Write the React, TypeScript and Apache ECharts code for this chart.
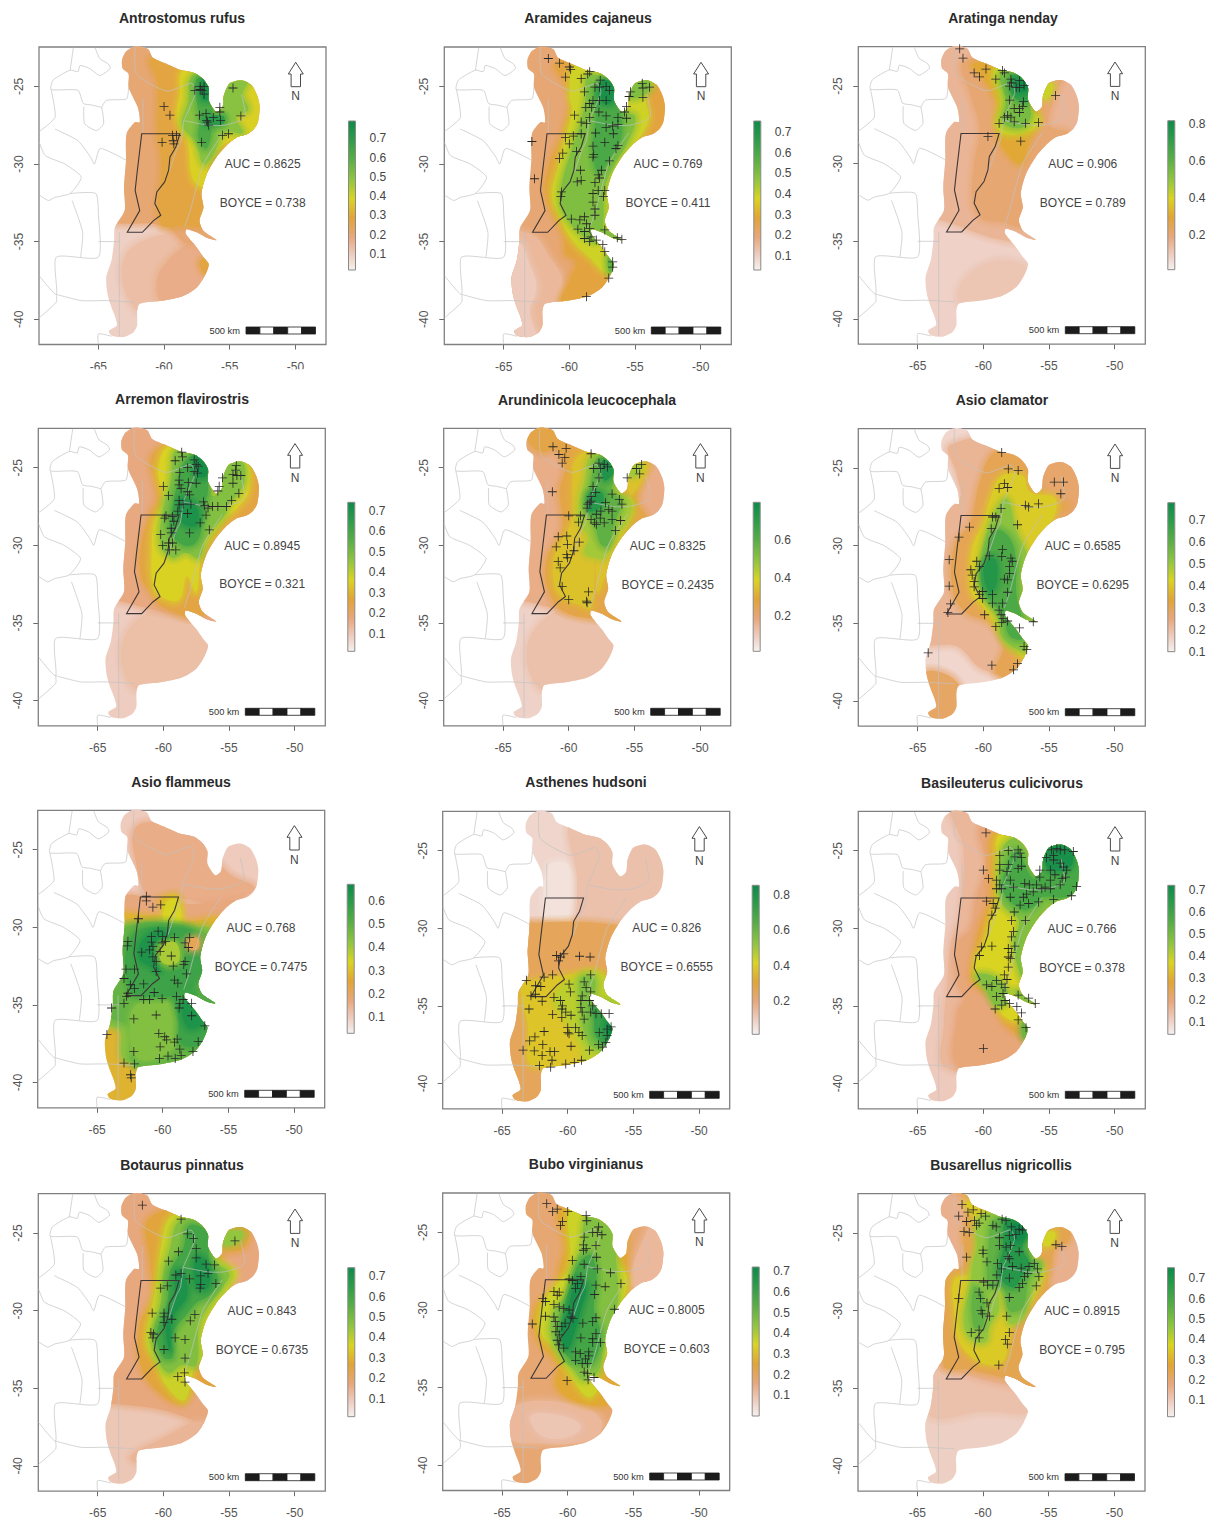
import React, { useEffect, useRef } from "react";
import * as echarts from "echarts";

const FONT = "'Liberation Sans', Arial, sans-serif";
const SPECIES = ["Antrostomus rufus","Aramides cajaneus","Aratinga nenday","Arremon flavirostris","Arundinicola leucocephala","Asio clamator","Asio flammeus","Asthenes hudsoni","Basileuterus culicivorus","Botaurus pinnatus","Bubo virginianus","Busarellus nigricollis"];
const AUC = ["0.8625","0.769","0.906","0.8945","0.8325","0.6585","0.768","0.826","0.766","0.843","0.8005","0.8915"];
const BOYCE = ["0.738","0.411","0.789","0.321","0.2435","0.6295","0.7475","0.6555","0.378","0.6735","0.603","0.795"];
const RANGE_MIN = [0.017,0.03,0.009,0.015,0.012,0.1,0.032,0.014,0.046,0.013,0.0,0.02];
const RANGE_MAX = [0.79,0.755,0.818,0.742,0.796,0.779,0.671,0.853,0.723,0.741,0.72,0.752];
const T7 = [0.1,0.2,0.3,0.4,0.5,0.6,0.7];
const T6 = [0.1,0.2,0.3,0.4,0.5,0.6];
const T4 = [0.2,0.4,0.6,0.8];
const T3 = [0.2,0.4,0.6];
const BAR_TICKS = [T7,T7,T4,T7,T3,T7,T6,T4,T7,T7,T7,T7];
const LON_TICKS = [-65,-60,-55,-50];
const LAT_TICKS = [-25,-30,-35,-40];

const REGION = [-62.4,-22.47,-61.9,-22.42,-61.2,-22.6,-60.85,-23.15,-59.8,-23.55,-58.7,-23.95,-57.65,-24.15,-57,-24.55,-56.6,-25.1,-56.6,-25.9,-56,-26.65,-55.55,-26.35,-55.45,-25.6,-55,-24.8,-54.1,-24.6,-53.35,-24.9,-52.9,-25.6,-52.72,-26.3,-52.85,-27.3,-53.15,-27.75,-53.6,-28.05,-54.5,-28.3,-55.25,-28.8,-56,-29.55,-56.75,-30.65,-57.15,-31.9,-57,-32.8,-57.3,-33.65,-57,-34.3,-56,-34.9,-56.75,-34.75,-57.5,-34.4,-58.3,-34.2,-58.35,-34.5,-57.5,-35.4,-57,-36,-56.6,-36.45,-56.9,-37.2,-57.5,-37.95,-58.55,-38.5,-60.05,-38.8,-61.85,-39,-62.05,-39.45,-62.05,-40.4,-62.35,-40.85,-63.1,-41.15,-64,-41.05,-64.2,-40.75,-63.6,-40.4,-63.7,-39.9,-64,-39.25,-64.3,-38.4,-64.4,-37.3,-64,-36.2,-63.8,-34.95,-63.75,-34.1,-63,-33,-63.05,-31.5,-62.9,-29.8,-62.85,-28.05,-62.2,-27.3,-61.85,-27.3,-62,-26.35,-62.7,-25.05,-62.7,-24.2,-63.15,-23.85,-63.2,-23.3,-62.9,-22.75];
const SANTA_FE = [-61.7,-28.05,-58.8,-28.05,-59.1,-28.9,-59.55,-29.55,-59.65,-30.4,-59.95,-31.15,-60.55,-31.8,-60.7,-32.55,-60.25,-33.3,-60.8,-33.65,-61.65,-34.4,-62.8,-34.4,-61.85,-33,-62.2,-31.7,-62.05,-30.55];
const BOUNDARIES = [
  [-65.25,-22.5,-64.9,-23.2,-64.25,-23.55,-64.1,-23.85,-64.9,-24.3,-65.65,-23.85,-66.4,-23.65,-66.55,-24.05,-67.15,-23.95,-68.45,-24.6,-68.6,-25.2,-66.55,-25.25,-66.15,-26.1,-65.5,-26.2,-64.75,-26.35],
  [-66.9,-22.5,-67.15,-23.95],
  [-62.7,-25.05,-62.85,-25.8,-64.4,-25.9,-64.75,-26.35],
  [-64.75,-26.35,-64.6,-27.4,-65.15,-27.85,-66.05,-27.4,-66.1,-26.3],
  [-68.6,-25.2,-68.3,-27,-69.5,-27.9],
  [-68.3,-27.75,-66.55,-28.5,-65.6,-29.55,-65.3,-30,-64.85,-29,-62.9,-29.75],
  [-69.5,-28.6,-69.05,-29.45,-67.55,-30,-66.3,-30.85,-67.15,-31.9,-68.3,-32.15,-68.8,-32.35,-69.5,-32],
  [-67.15,-31.9,-65.2,-31.9,-65,-33.2,-65,-36,-68.2,-36,-68.2,-38.4,-69.5,-37.2],
  [-65,-35,-63.35,-35],
  [-63.4,-34.4,-63.4,-41.1],
  [-68.2,-38.4,-68.2,-38.9,-69.5,-39.9],
  [-68.2,-38.4,-66.3,-38.8,-64.4,-38.8,-62.2,-38.9],
  [-65,-41.6,-65,-40.95,-64,-41.1],
  [-67,-32.35,-66.2,-34.4,-66.35,-36],
  [-62.2,-22.5,-62.1,-24.2,-59.8,-25.3,-57.9,-24.8,-57.6,-25.4,-58.5,-27.2],
  [-61.6,-25.8,-61.6,-28],
  [-58.5,-27.2,-56.6,-27.5,-55.4,-27.5,-54.2,-27.2,-53.8,-26.9,-54.1,-25.5],
  [-58.5,-27.2,-58.7,-28.5,-59,-29,-59.6,-30.5],
  [-55.5,-28,-57,-30,-58,-33,-58.4,-34],
];

const zonesRufus: any[] = [
  [0.09,[-70,-22,-45,-22,-45,-42,-70,-42]],
  [0.13,[-63,-36,-60,-34.5,-57,-34.5,-55,-38,-60,-40,-62.5,-39]],
  [0.17,[-60,-36.5,-57,-35,-55,-38,-59,-39.5,-60.5,-38.5]],
  [0.2,[-70,-22,-50,-22,-50,-35,-58,-35.2,-60,-34,-64,-33.8,-70,-33]],
  [0.27,[-61,-23.2,-60.5,-24.8,-60.5,-28,-60.2,-30,-60.3,-33.8,-58.3,-34,-57,-34,-55,-33,-55,-30,-53.5,-28,-56,-25,-58,-23.5]],
  [0.27,[-57.2,-36.2,-56,-36,-56,-37.2,-57,-37]],
  [0.38,[-58.6,-24,-58.8,-25.5,-59,-27.2,-58.2,-28.6,-57.8,-31,-56.8,-31.5,-56.6,-30,-55.2,-28.6,-53,-28.2,-52,-26,-54,-24,-55.5,-25.5,-56,-26.5,-56.3,-25,-57,-24]],
  [0.5,[-58,-24.5,-58.2,-26,-58.6,-27.5,-57.6,-28.6,-57,-30,-56.3,-29.5,-55.4,-28,-54,-28,-54.5,-27,-53.6,-26.5,-54,-25.5,-53.5,-24.4,-55,-24.4,-55.6,-26,-56,-27,-56.5,-26,-56.4,-24.6,-57,-24]],
  [0.62,[-57.5,-24.5,-57.5,-26,-57.3,-27.2,-57.4,-28.3,-56.8,-29,-56.4,-28,-56.5,-27.4,-56.3,-26.5,-56.5,-25]],
  [0.75,[-57.1,-24.5,-57.1,-25.8,-56.5,-25.8,-56.5,-24.8]],
  [0.7,[-56.8,-27,-55.5,-26.9,-55.5,-27.4,-56.8,-27.5]],
];
const pointsRufus = [-60,-26.3,-59.55,-26.85,-60.15,-28.6,-59.35,-28.15,-59.05,-28.15,-59.3,-28.5,-59.25,-28.7,-57.65,-25.25,-57.25,-25,-56.95,-25,-57.1,-25.25,-56.95,-25.5,-57.25,-25.2,-57.3,-26.85,-56.8,-26.75,-56.75,-27.2,-56.6,-27.5,-56.25,-27,-55.75,-26.35,-55.75,-26.65,-55.7,-27.2,-54.75,-25.1,-54.15,-26.9,-55.55,-28.15,-55.1,-28.05,-57.15,-28.6,-56.7,-27.3];

const zonesCajaneus: any[] = [
  [0.2,[-70,-22,-45,-22,-45,-42,-70,-42]],
  [0.15,[-70,-34,-63,-34.5,-61.5,-36,-60.5,-37.5,-61,-39,-62,-42,-70,-42]],
  [0.11,[-70,-34.5,-64,-35,-63,-36.5,-62.5,-38,-63,-39.5,-62.5,-42,-70,-42]],
  [0.27,[-60,-34.3,-59.5,-35.5,-59.5,-36.5,-60,-37.5,-60.5,-39,-56,-39,-55,-35]],
  [0.27,[-61,-23.5,-60,-25.5,-60.5,-28,-61.5,-30,-61.8,-32,-60.5,-34.5,-60,-36,-55,-36,-55,-30,-53,-28,-52,-25,-54,-24,-57,-23]],
  [0.39,[-59.5,-23.6,-60,-25.5,-59.8,-26.5,-60.2,-28,-60.8,-30,-61.3,-32,-60.7,-33.5,-59.7,-35,-58.5,-36,-57,-37,-55,-36,-57,-34,-56,-30,-54,-27.3,-54.2,-25.5,-53.5,-24.3,-57,-23.8]],
  [0.5,[-58.5,-24.3,-58.8,-26,-59.2,-27.5,-59.8,-29,-60.5,-31,-60.7,-32.5,-60.2,-33.5,-59,-34.6,-58,-35,-57.6,-34.6,-57.4,-33.5,-57.3,-31.5,-56.5,-30,-55.5,-28.5,-55,-27,-55.8,-26.5,-56.2,-25]],
  [0.5,[-55.6,-25.7,-55,-24.8,-54,-24.6,-53.9,-25.2,-54.8,-25.7]],
  [0.5,[-58.5,-34.6,-57.2,-34.3,-56,-34.9,-57,-35]],
  [0.55,[-57,-35.8,-56.5,-36,-56.5,-37,-57,-36.9]],
  [0.6,[-58,-25,-58,-27,-58.2,-29,-57.8,-30.5,-56.8,-29.5,-56,-28,-56.5,-26]],
  [0.72,[-57.5,-24.6,-57.5,-26,-56.7,-26,-56.5,-25]],
];
const pointsCajaneus = [-61.6,-23.2,-60.75,-23.5,-60,-23.75,-59.9,-23.9,-60.3,-24.4,-59.1,-24.5,-58.45,-24.05,-58.6,-24.2,-57.65,-24.6,-58.05,-25.05,-57.7,-25.05,-57.2,-25,-56.95,-25.25,-58.85,-25.35,-58.2,-25.9,-58.45,-26.1,-57.7,-25.9,-57.2,-25.9,-58.75,-26.35,-58.3,-26.35,-57.75,-26.65,-59.6,-26.85,-59.1,-27.3,-58.7,-27.4,-58.45,-27,-57.2,-26.9,-56.3,-27,-55.65,-26.3,-55.8,-26.65,-55.65,-27.05,-56.3,-27.45,-56.7,-27.55,-57.2,-27.65,-56.65,-28.05,-58,-28,-59.1,-28.05,-59.7,-28.2,-60.3,-28.3,-60,-28.7,-57.3,-28.6,-58.2,-28.85,-56.3,-28.8,-56.45,-29,-58.15,-29.4,-58.2,-29.55,-59.45,-29.2,-60.5,-29.3,-60.75,-29.65,-56.95,-29.8,-59.15,-30.4,-57.55,-30.4,-57.8,-30.7,-57.7,-30.9,-59.1,-31.05,-59.4,-31.15,-58.05,-31.2,-57.3,-31.7,-57.8,-31.7,-58.2,-31.9,-57.4,-32.1,-60.6,-31.8,-60.65,-32.1,-58.2,-32.45,-58.05,-32.9,-58.05,-33.3,-59.85,-33.55,-59.2,-33.6,-58.85,-33.4,-58.7,-33.85,-58.45,-34.15,-59.35,-34.2,-58.85,-34.35,-57.3,-34.25,-58.35,-34.7,-58.85,-34.8,-58.45,-35,-57.95,-34.9,-57.45,-35.2,-57.3,-35.65,-56.35,-34.75,-56,-34.85,-56.7,-36.3,-56.7,-36.65,-57,-37.35,-58.7,-38.55,-62.85,-28.55,-62.65,-30.95,-54.4,-25.1,-54.45,-24.8,-53.9,-25.05,-55.35,-25.35,-55.45,-25.65,-54.4,-25.7];

const zonesNenday: any[] = [
  [0.08,[-70,-22,-45,-22,-45,-42,-70,-42]],
  [0.11,[-62,-38.5,-60,-36.5,-57,-36.5,-56,-38,-60,-39.5]],
  [0.15,[-70,-22,-50,-22,-50,-35,-58,-35,-64,-33.5,-70,-33]],
  [0.2,[-61.5,-23.5,-61,-25.5,-60.3,-27.7,-60.7,-30,-60.8,-32.5,-60.2,-33.5,-58.5,-33.8,-57,-34,-56,-32,-55.5,-30,-55,-28.2,-56,-27,-57,-23]],
  [0.2,[-55.5,-26.5,-55.4,-24.8,-54,-24.5,-54.5,-25.5,-55,-27.5,-53.5,-28,-56,-29]],
  [0.3,[-60.8,-23.6,-60,-24.5,-59,-26,-59,-27.3,-58.8,-28.3,-58.5,-29,-57.2,-30,-56.5,-28.5,-55.8,-27,-56,-24.5,-58,-23.5]],
  [0.42,[-59.2,-24,-58.7,-26,-59,-27.5,-58.3,-28.1,-56.5,-27.9,-55.7,-27.2,-56.3,-26.5,-56.4,-24.8,-57.5,-23.9]],
  [0.42,[-55.5,-25.8,-55.4,-24.9,-54.7,-24.9,-55,-25.7]],
  [0.55,[-58.7,-24.2,-58.3,-26,-58.5,-27.3,-57.2,-27.7,-56.4,-27,-56.5,-26,-56.5,-24.8,-57.3,-24.1]],
  [0.7,[-57.9,-24.4,-57.8,-25.6,-56.6,-26,-56.5,-24.9,-57.2,-24.3]],
  [0.8,[-57.4,-24.6,-57.4,-25.3,-56.7,-25.3,-56.7,-24.8]],
];
const pointsNenday = [-61.8,-22.6,-61.55,-23.2,-60.7,-24.15,-60.3,-24.4,-59.8,-23.9,-59.05,-24.55,-58.55,-24,-58.4,-24.15,-57.9,-24.55,-58,-25,-57.85,-24.8,-57.5,-25.1,-57.25,-25.1,-57.25,-24.65,-56.9,-24.95,-58,-25.9,-56.95,-26,-57,-26.3,-57.65,-26.45,-57.25,-26.45,-57.25,-26.7,-58.15,-26.9,-57.9,-27,-58.4,-27,-58.8,-27.4,-57.65,-27.3,-56.8,-27.4,-55.8,-27.35,-59.65,-28.25,-57.15,-28.55,-54.5,-25.6];

const zonesFlav: any[] = [
  [0.09,[-70,-22,-45,-22,-45,-42,-70,-42]],
  [0.12,[-63,-36,-60,-34,-56,-35,-56,-37,-60,-39.5,-62.5,-39]],
  [0.17,[-70,-22,-50,-22,-50,-35,-57,-34.8,-60.5,-34.2,-64,-33.5,-70,-33]],
  [0.25,[-60.7,-24,-60.5,-27,-61,-28,-61.7,-30,-61.7,-32,-61,-33,-60,-34,-57,-34.5,-56,-31,-54.6,-29,-53,-28.2,-52,-26,-54,-24,-56,-23]],
  [0.36,[-59.6,-23.6,-60.4,-25.2,-60,-27,-60.7,-28.5,-60.9,-30.5,-60.8,-32.5,-60.2,-33.3,-58.8,-33.5,-58.2,-32,-57.5,-33,-57,-30.5,-55.5,-28.5,-54.4,-27.6,-53.5,-26.5,-53.7,-24.5,-55.4,-24.5,-55.8,-26.5,-56.5,-25,-57.5,-23.8]],
  [0.48,[-59,-23.8,-59.5,-26,-60,-27.5,-60.2,-30,-59.3,-30.8,-58.3,-30.5,-57.3,-30.8,-56.7,-29.5,-55.3,-28,-55,-27.3,-54.4,-26.8,-53.8,-25.8,-54,-24.6,-55.2,-24.6,-55.7,-26.4,-56.3,-26.8,-56.5,-25,-57.3,-24]],
  [0.6,[-58.3,-24.5,-58.9,-26,-59.3,-27.5,-59.5,-29,-58.5,-30,-57.5,-29.8,-57,-28.5,-56.8,-27.3,-56.6,-26.5,-56.7,-25,-57,-24.2]],
  [0.72,[-57.5,-24.2,-57.5,-25.5,-56.7,-25.5,-56.8,-24.5]],
  [0.7,[-58.7,-27,-58.6,-28.5,-57.5,-28.7,-57.5,-27.5]],
];
const pointsFlav = [-58.6,-24,-58.55,-24.3,-59.1,-24.55,-57.65,-24.5,-57.5,-24.8,-57.35,-24.9,-58.15,-25,-57.65,-25.25,-57.4,-25.35,-58.75,-25.3,-58.8,-25.8,-58.1,-25.95,-57.5,-26,-58.8,-26.1,-58.65,-26.35,-60,-26.2,-59.6,-26.8,-58.15,-26.55,-58,-26.75,-58.8,-27.1,-58.8,-27.4,-58.5,-27.35,-57.9,-27.35,-58.9,-27.8,-58.15,-27.95,-56.95,-27.2,-56.85,-27.45,-56.6,-27.6,-56.25,-27.5,-55.85,-27.5,-55.2,-27.5,-56.75,-28.05,-57.2,-28.55,-56.5,-29,-58,-29.2,-59.8,-28.1,-59.9,-28.25,-59.3,-28.15,-59.2,-28.45,-59.4,-28.9,-60.2,-29.3,-59.4,-29.2,-60.05,-30,-59.6,-29.85,-59.3,-29.85,-59.55,-30.3,-59.05,-30.3,-55.5,-25.65,-55.75,-26.2,-55.85,-26.5,-54.7,-26,-54.7,-25.45,-54.45,-24.85,-54.5,-25.15,-54.4,-25.5,-54.1,-25.5,-54.25,-26.65,-54.8,-27.1];

const zonesArund: any[] = [
  [0.08,[-70,-22,-45,-22,-45,-42,-70,-42]],
  [0.12,[-63,-36,-60,-34,-56,-35,-56,-37,-60,-39.5,-62.5,-39]],
  [0.17,[-70,-22,-50,-22,-50,-35,-57,-34.8,-60.5,-34.2,-64,-33.5,-70,-33]],
  [0.26,[-61,-23,-60.3,-25,-60.7,-26.5,-60.5,-28,-60.5,-29,-61.7,-31,-61.5,-33,-60.3,-34.3,-57.5,-34.8,-56,-35,-55,-30,-54,-28.5,-54.8,-27,-54,-24,-57,-23.5]],
  [0.26,[-63.2,-23,-62,-22.2,-60.5,-23,-62,-24]],
  [0.35,[-59.5,-24.5,-59.7,-26,-59.7,-27.5,-59.8,-28.5,-61,-30.5,-61.2,-32,-60.7,-33.2,-59.3,-33.8,-58.3,-34,-58,-31,-57.8,-33,-57,-31.5,-56.3,-30,-55.5,-28.8,-55,-27.5,-55.5,-26.3,-55.3,-25.2,-54.5,-24.6,-54,-25,-55.5,-27,-56,-26.5,-56,-24.5,-58,-23.8]],
  [0.46,[-58.4,-24.3,-58.8,-25.8,-59.2,-27,-59.2,-28.5,-58.5,-29.5,-58.8,-30.5,-58,-30.8,-57.3,-30.8,-56.3,-29.3,-55.6,-28.5,-55.2,-27.3,-55.8,-26.8,-56.2,-26.6,-56.1,-25,-57,-24]],
  [0.46,[-55.4,-25.5,-55.3,-25,-54.5,-24.8,-54.8,-25.5]],
  [0.58,[-57.8,-24.4,-58.3,-25.8,-58.5,-27.5,-58,-28.8,-57.5,-30,-57,-30,-56.5,-28.5,-56,-27.2,-56.7,-26.5,-56.4,-25]],
  [0.74,[-57.4,-24.5,-57.3,-25.8,-56.8,-25.6,-56.5,-25]],
  [0.72,[-58.5,-26.7,-58.5,-27.8,-57.5,-27.5,-57.5,-26.6]],
];
const pointsArund = [-61.2,-23.65,-60.2,-23.75,-60.75,-24.15,-60.3,-24.35,-60.5,-24.7,-61.25,-26.55,-58.3,-24.1,-57.7,-24.7,-58.1,-25.05,-57.6,-25.05,-57.3,-24.8,-57.05,-24.95,-57.7,-25.65,-55.55,-25.65,-54.85,-25.05,-54.45,-24.8,-54.6,-25.4,-58.15,-26.2,-57.95,-26.6,-58.3,-26.85,-58.3,-27.15,-58.55,-27.35,-58.4,-27.25,-58.6,-27.6,-56.7,-26.7,-57.2,-27.25,-56.15,-27.05,-55.95,-27.35,-56.95,-27.7,-56.7,-27.8,-57.55,-27.8,-57.9,-28,-57.6,-28.25,-60,-28.1,-59.1,-28.1,-58.3,-28.35,-58.05,-28.55,-57.9,-28.65,-57.3,-28.55,-56.7,-28.35,-56.05,-28.4,-56.45,-29.05,-59.25,-28.5,-60.8,-29.45,-60.15,-29.4,-60.1,-29.95,-60.95,-30.1,-59.2,-29.8,-59.6,-30.35,-60.15,-30.6,-60.1,-30.8,-60.8,-31.05,-60.65,-31.45,-60.5,-32.65,-60,-33.5,-58.5,-33,-58.65,-33.6,-58.6,-33.7];

const zonesClam: any[] = [
  [0.15,[-70,-22,-45,-22,-45,-42,-70,-42]],
  [0.22,[-62.5,-23.5,-62,-25.5,-61.8,-27,-63.2,-28,-64,-35,-64.5,-36.3,-62,-36.5,-60,-38,-56,-38.5,-55,-33,-52,-30,-52,-24,-56,-23]],
  [0.28,[-64.5,-38.2,-62,-38.8,-61.8,-41.2,-64.5,-41.3]],
  [0.27,[-56,-27,-55.5,-24.3,-52,-24.3,-52,-28.5,-55,-28.5]],
  [0.3,[-59.2,-24,-60.3,-26,-61,-28.5,-62.2,-30,-62.3,-33,-61.3,-34.3,-59.5,-35,-58.5,-36.5,-59,-38.2,-56,-38.5,-55,-34,-55.5,-28.5,-53.5,-27.5,-55.5,-26.5,-56,-23]],
  [0.41,[-58.6,-25.5,-59.5,-27,-60,-28.5,-60.8,-30,-61,-31.5,-60.9,-33,-60,-34,-59,-35.2,-58,-36.5,-56,-37.5,-55.5,-35,-56,-31,-55,-29,-54.5,-27,-56.5,-26.5,-57,-25.5]],
  [0.52,[-58.2,-27,-59.2,-28,-60,-30,-60.3,-32,-60,-33.3,-59,-34.5,-58.5,-36,-57,-36.8,-56,-36.5,-56,-34.8,-56.5,-31,-57.5,-29]],
  [0.52,[-57,-34,-56,-34.9,-57,-35]],
  [0.63,[-59,-29,-59.8,-30.5,-60.2,-31.8,-59.8,-33.2,-58.5,-34.5,-58,-35.8,-57,-36,-57,-35,-57.5,-33,-57.5,-31,-58,-29.5]],
  [0.72,[-59.5,-30.8,-60,-31.7,-59.5,-33,-59,-32.5,-59,-31]],
];
const pointsClam = [-58.6,-24,-58.1,-25.05,-57.35,-25.15,-58.4,-26,-58.8,-26.3,-58.15,-26.25,-58.65,-27.6,-56.8,-27.4,-56.55,-27.5,-55.8,-27.3,-54.6,-25.9,-53.9,-25.9,-54.1,-26.65,-59.3,-28.15,-59.05,-28.15,-57.4,-28.65,-59.4,-28.9,-61.05,-28.8,-61.85,-29.45,-62.6,-30.9,-62.6,-32.6,-62.5,-33.75,-62.7,-34.3,-58.55,-30.25,-58.6,-30.7,-59.55,-30.65,-57.9,-30.8,-57.8,-31,-60.5,-31,-60.3,-31.35,-60.95,-31.55,-60.85,-31.9,-58,-31.35,-58,-31.8,-58.4,-32.15,-58.15,-32.2,-60.7,-32.3,-60.7,-32.65,-60.05,-32.95,-60.3,-33.15,-58.15,-33,-59.3,-33.15,-60.05,-33.4,-59.3,-33.7,-58.55,-33.7,-58.8,-34.15,-58.65,-34.45,-59.9,-34.45,-58.5,-34.7,-58.15,-34.85,-59.05,-35.2,-58.6,-34.95,-57.25,-35.3,-56.2,-34.9,-56.9,-36.5,-56.7,-36.7,-57.4,-37.6,-57.7,-38,-59.35,-37.7,-64.2,-36.9];

const zonesFlamm: any[] = [
  [0.1,[-70,-22,-45,-22,-45,-42,-70,-42]],
  [0.16,[-62,-23.5,-62,-26,-61,-28,-58,-28.2,-56,-28.5,-53,-27.5,-55,-26.5,-57,-24.5,-59,-23.5]],
  [0.17,[-63.5,-28,-62,-30,-55,-30,-53,-28.3,-58,-28.5]],
  [0.28,[-70,-29.2,-60,-29.2,-60.2,-28.2,-58.8,-28,-58.5,-29.5,-55,-29.7,-50,-42,-70,-42]],
  [0.34,[-59.8,-28.5,-59,-28.2,-58.6,-29.5,-59.8,-30]],
  [0.43,[-70,-30,-60,-30,-58,-30,-56,-30.2,-50,-35,-50,-42,-60,-42,-61.5,-38.8,-63,-38.5,-63.5,-36.5,-70,-36]],
  [0.49,[-64.5,-33.5,-62.8,-30,-56.5,-30.5,-56,-33,-54,-35,-55,-38.8,-62,-39,-62.5,-36.5,-64.5,-35.5]],
  [0.44,[-62,-35,-59.5,-34.8,-58.8,-36.5,-59.5,-38,-61.8,-38.5,-62.5,-36.5]],
  [0.56,[-62.3,-30.5,-59,-30,-57.5,-30.5,-57,-33,-58,-34,-60.5,-34.5,-62.5,-34]],
  [0.56,[-59,-34.2,-56.8,-34.2,-56.2,-36,-57,-37.5,-58.6,-37.5,-58.8,-36]],
  [0.63,[-61.5,-30.8,-60,-30.2,-59.5,-31,-60.2,-32,-60.3,-32.8,-61,-32.5,-61.8,-32]],
  [0.63,[-58.5,-35,-57.3,-34.8,-56.8,-36,-58,-36.5]],
  [0.39,[-60.2,-31.2,-59,-31,-58.8,-32.2,-60,-32.3]],
  [0.22,[-58.1,-30.8,-57.3,-30.7,-57.3,-31.4,-58,-31.4]],
  [0.52,[-57,-33.3,-56,-34.9,-57.2,-35]],
];
const pointsFlamm = [-61.25,-28,-61.25,-28.3,-60.15,-28.55,-60.75,-28.7,-61.85,-29.45,-60.35,-30.25,-60,-30.6,-59.1,-30.65,-60.85,-30.6,-60.85,-30.95,-60.75,-31.25,-61,-31.45,-61.6,-31.6,-62.65,-30.9,-62.7,-31.2,-57.95,-30.65,-58.3,-31,-58.05,-31.3,-60.2,-31.55,-59.8,-30.9,-60.05,-31,-60.75,-31.9,-60.5,-32.2,-59.35,-31.85,-59.2,-32.5,-58.3,-32.2,-58.4,-32.4,-60.5,-32.85,-58.2,-33,-62.8,-32.7,-62.15,-32.7,-62.95,-33.3,-62.45,-33.7,-61.45,-33.65,-59.1,-33.4,-58.85,-33.6,-62.15,-33.95,-60.65,-34.2,-62.65,-34.25,-62.75,-34.45,-61.45,-34.65,-61,-34.65,-60.05,-34.6,-58.95,-34.45,-62.95,-34.9,-63.9,-35.2,-58.7,-34.9,-58.45,-34.65,-57.8,-34.9,-58.75,-35.2,-60.5,-35.65,-62.2,-35.9,-57.8,-35.7,-56.8,-36.35,-64.25,-36.9,-60.3,-36.85,-59.85,-37.05,-59.7,-37.25,-58.9,-37.2,-59.1,-37.4,-60.2,-37.7,-57.3,-37.35,-58.7,-37.85,-62.2,-38,-57.7,-38,-58.6,-38.25,-59.6,-38.3,-60.25,-38.45,-59.05,-38.45,-62.95,-38.75,-62.15,-38.8,-62.45,-39.5,-62.4,-39.7];

const zonesHud: any[] = [
  [0.08,[-70,-22,-45,-22,-45,-42,-70,-42]],
  [0.05,[-61.5,-26,-59.8,-26,-59.8,-29.5,-61.5,-30]],
  [0.13,[-59.5,-23,-50,-23,-50,-31.5,-63.5,-31.5,-63.5,-29.8,-61.5,-30.4,-59.7,-29.8,-59.3,-27]],
  [0.19,[-70,-30.7,-55,-30.7,-50,-33,-50,-42,-70,-42]],
  [0.25,[-70,-31.5,-50,-31.5,-50,-42,-70,-42]],
  [0.38,[-63.5,-33.7,-62,-33.3,-60,-33,-58,-32.8,-57,-33.2,-55.5,-35,-56,-38,-58,-39,-62,-39,-63,-38.6,-63,-36.5]],
  [0.46,[-61,-34.5,-59,-33,-57.5,-33,-56,-34.9,-57,-35,-56,-36,-56,-38,-58.5,-38.7,-59,-37.5,-60,-36]],
  [0.46,[-57.5,-33.7,-56,-34.9,-57.2,-34.9]],
  [0.56,[-59,-33.2,-58,-33.2,-57.8,-34.5,-56.5,-35,-56,-36,-56,-38,-58,-37.7,-58.8,-36.5,-59,-35]],
  [0.72,[-58,-35,-56.8,-35.2,-56,-36.5,-56.5,-37.8,-57.8,-37,-58,-36]],
  [0.85,[-57,-36,-56,-36,-56,-37.2,-56.8,-37.2]],
];
const pointsHud = [-60.85,-31.75,-60.55,-31.85,-60.7,-32.1,-60.3,-31.65,-59.1,-31.8,-58.3,-31.85,-58.25,-33,-61.15,-33,-61.8,-33.15,-63.15,-33.35,-62.45,-33.7,-62.05,-33.75,-62.8,-34.35,-62.45,-34.25,-61.95,-34.7,-62.95,-35.2,-59.9,-33.6,-59.8,-34.1,-58.75,-33.45,-58.6,-33.8,-58.9,-34.35,-58.25,-34.1,-61.05,-34.45,-60.55,-34.65,-60.4,-35,-60.45,-35.2,-60.15,-35.4,-61.15,-35.55,-60.45,-35.75,-59.75,-35.6,-59,-34.65,-59,-35.1,-58.35,-34.65,-58.1,-35,-58.9,-35.4,-58.25,-35.4,-57.85,-35.5,-57.45,-35.5,-56.85,-35.5,-58.75,-35.85,-60,-36.4,-59.4,-36.4,-60,-36.7,-59.9,-36.8,-59.15,-36.7,-58.9,-36.9,-61.8,-36.65,-62.9,-37.25,-62.5,-37,-61.9,-37.5,-63.4,-37.85,-62.55,-37.9,-61.95,-38.2,-61.35,-37.95,-61,-37.95,-61.2,-38.5,-59.75,-37.6,-58.35,-37.85,-57.65,-37.5,-57.35,-37.65,-57.1,-37.35,-57,-36.9,-57,-36.5,-56.7,-36.35,-57.6,-36.7,-62.15,-38.85,-61.3,-38.95,-60.15,-38.75,-59.5,-38.65,-58.95,-38.5];

const zonesBasil: any[] = [
  [0.12,[-70,-22,-45,-22,-45,-42,-70,-42]],
  [0.16,[-62.2,-22,-61.5,-25,-61.8,-29,-62.5,-31,-62.8,-34,-63,-36,-62.8,-39,-55,-39,-50,-30,-50,-22]],
  [0.2,[-60,-23.4,-59.8,-26,-60.6,-28.2,-61,-30,-62,-31,-62,-33.5,-61.5,-34.5,-62,-35.5,-61.8,-39,-55,-39,-50,-30,-50,-23]],
  [0.27,[-59,-23.8,-59.5,-26,-59.5,-28,-60.3,-30,-60.8,-32,-60.8,-33.5,-59.3,-34.5,-58.5,-36,-57,-37,-56,-37,-55,-33,-50,-30,-50,-23]],
  [0.37,[-58.5,-23.8,-59,-26,-59,-28,-59.5,-29.5,-60,-31,-60.6,-32,-60.5,-33.3,-59.5,-33.8,-58.8,-35.3,-57.5,-36,-56.5,-35.5,-56,-33,-55.5,-30.5,-50,-28,-50,-23]],
  [0.48,[-57.8,-24.2,-58.6,-25,-58.8,-27,-58.5,-28.5,-57.3,-29.5,-57.7,-31,-57.2,-33,-57,-33.2,-56.3,-32,-55.8,-30,-53,-28.5,-52,-27,-52,-25,-54,-24,-55.5,-25,-56,-26.6,-56.4,-24]],
  [0.48,[-60.5,-33,-59,-33.2,-58,-34.5,-59,-35,-59.8,-34]],
  [0.48,[-57.5,-34,-56,-34.9,-57,-35]],
  [0.52,[-57,-36,-56.4,-36,-56.5,-37.2,-57,-37]],
  [0.58,[-58.2,-26,-58.5,-27.6,-57,-28.8,-56,-28.5,-55.5,-28,-53.8,-28,-52.5,-27.5,-52.6,-25.5,-53.5,-24.3,-55,-24.3,-55.7,-26,-56.2,-26.8,-57.5,-25]],
  [0.69,[-55.4,-24.4,-53.6,-24.5,-53.2,-25.8,-54.2,-26.3,-55.2,-26]],
];
const pointsBasil = [-59.8,-23.85,-60,-26.25,-58.1,-25,-57.35,-24.95,-57.2,-25.15,-57.1,-25.45,-58.75,-25.3,-57.6,-25.4,-58.75,-25.9,-58.1,-25.9,-57.1,-26,-57.35,-26.15,-58.75,-26.25,-58.2,-26.35,-59.6,-26.8,-59,-26.9,-57.95,-26.9,-58.75,-27.2,-58.6,-27.45,-59,-27.45,-57.7,-27.35,-57.95,-28,-59.75,-28.25,-59.25,-28.4,-59.1,-28.7,-59.35,-29.15,-57.65,-28.95,-57.85,-29.5,-56.8,-29.5,-57.7,-30.2,-57.85,-30.55,-60.15,-31.2,-59.35,-31.15,-60.3,-31.75,-58.1,-31.3,-57.6,-31.15,-57.85,-31.55,-58.1,-31.85,-57.95,-31.95,-58.1,-32.5,-58.4,-33,-58.2,-33.3,-59,-33.35,-59.75,-33.65,-59.35,-33.75,-58.6,-33.6,-58.35,-33.8,-59,-34.4,-58.5,-34.2,-58.35,-34.65,-57.35,-34.3,-56.55,-34.5,-56.05,-34.85,-58,-34.85,-57.45,-35.05,-57.1,-35.45,-59.1,-35.2,-58.6,-34.95,-57.35,-35.9,-56.75,-36.4,-60,-37.75,-54.4,-24.85,-54.8,-24.95,-54.65,-25.3,-54.15,-24.95,-53.15,-25.05,-53.8,-24.95,-55.2,-25.45,-54.65,-25.6,-54.15,-25.8,-53.9,-26.05,-53.65,-26.25,-55.7,-26.25,-54.9,-26.25,-54.55,-26.55,-55.7,-26.7,-54,-26.8,-53.75,-26.7,-54.9,-26.9,-54.15,-27.2,-52.9,-27.3,-53.3,-27.9,-56.85,-27.1,-56.5,-27.2,-55.95,-27.2,-55.55,-27.45,-54.9,-27.45,-56.2,-27.65,-56.7,-27.8,-56.95,-28,-55.8,-28.3,-57.2,-28.5,-56.55,-28.4,-54.65,-28.15,-55.3,-27.35];

const zonesBota: any[] = [
  [0.1,[-70,-22,-45,-22,-45,-42,-70,-42]],
  [0.17,[-70,-22,-50,-22,-50,-39,-56,-39,-58,-37,-64,-36,-70,-36]],
  [0.14,[-62.5,-39.5,-60,-38.2,-57,-37.2,-55,-39,-60,-40]],
  [0.26,[-61,-24,-61,-27,-60.8,-29,-61.8,-31,-61.6,-33.8,-60,-35.5,-58.5,-36,-57.5,-35,-55,-35,-55,-30,-55.5,-27,-56,-23.5]],
  [0.26,[-55.5,-26,-55,-24.7,-53.5,-24.8,-54,-26]],
  [0.38,[-59.5,-24,-60.2,-26,-60.5,-28,-60.8,-29.5,-61.3,-32,-60.5,-33.5,-59.8,-34.8,-58.5,-35.8,-58,-35,-57.6,-33.5,-57,-33,-56.5,-31,-55,-28.5,-54.5,-27.5,-56,-26.5,-56,-24.5,-58,-23.9]],
  [0.45,[-55.6,-25.7,-55.1,-24.9,-53.9,-25,-54.5,-25.7]],
  [0.48,[-58.8,-24.2,-59.5,-26,-60,-27.5,-60.2,-29.5,-60.8,-31.5,-60.5,-33,-59.6,-34,-58.6,-33.5,-57.5,-33.5,-57.3,-31,-56.8,-30,-55.5,-28.5,-55,-27.6,-56,-26.8,-56.3,-25,-57.2,-24]],
  [0.6,[-58,-24.5,-58.5,-26,-59.5,-27.5,-59.7,-29.5,-60.5,-31.5,-60,-33,-59.3,-33,-59.3,-31.5,-58,-30,-57.5,-29.5,-56.5,-29,-55.8,-28,-56.5,-26.8,-56.6,-25]],
  [0.7,[-59,-27.5,-59.2,-29.3,-59.8,-31,-59.5,-32.5,-59.3,-30.5,-58.2,-29,-58.5,-27.5]],
  [0.7,[-57.5,-26.5,-56.6,-27,-56.6,-28.5,-57.5,-28.5]],
];
const pointsBota = [-61.6,-23.2,-58.65,-24.1,-58.15,-25.05,-57.7,-25.35,-54.55,-25.5,-57.5,-26,-58.85,-26.2,-57.5,-26.6,-59.6,-26.8,-56.75,-27,-56.1,-27.05,-56.6,-27.6,-57.15,-27.75,-58.65,-27.6,-59.05,-27.7,-58,-27.95,-56,-28.25,-57.15,-28.3,-57.2,-28.55,-59.7,-28.4,-60.2,-28.55,-60.85,-30.15,-59.95,-30.15,-59.95,-30.4,-59.95,-30.75,-59.35,-30.55,-57.6,-30.25,-57.95,-30.65,-60.95,-31.4,-60.8,-31.75,-60.75,-31.5,-59.1,-31.75,-58.35,-31.85,-59.95,-32.5,-58.35,-33.05,-58.4,-34,-58.9,-34.25,-58.35,-34.6];

const zonesBubo: any[] = [
  [0.17,[-70,-22,-45,-22,-45,-42,-70,-42]],
  [0.12,[-64,-36.2,-60,-36,-57.5,-37,-58,-38.3,-62,-38.6,-64.5,-38.2]],
  [0.09,[-62.8,-36.8,-60.5,-36.8,-59,-37.5,-60,-38.2,-62,-38.1]],
  [0.12,[-55,-27,-53,-24,-52,-28,-55,-28.5]],
  [0.26,[-60.5,-23.5,-60.2,-26,-60.5,-27,-61,-28.5,-62.5,-30,-62.2,-32,-60.8,-33.5,-60.8,-35,-59,-36,-56.5,-36,-55,-35,-55.5,-30,-55.5,-27,-56,-24]],
  [0.36,[-59.8,-23.5,-59.8,-26.5,-60,-27.5,-61,-28.5,-62,-29.8,-62,-31.5,-61,-32.5,-60.3,-33.5,-59.8,-34.2,-58.5,-35.6,-57.8,-35.2,-57.5,-33.5,-56.8,-32.5,-56,-30,-55.5,-28,-56.3,-26.6,-56,-24.5,-58,-23.5]],
  [0.46,[-58.5,-24,-59,-26,-59.6,-27.5,-60,-29,-61,-30,-61.3,-31.5,-60.5,-33,-59.6,-33.8,-58.8,-34.5,-57.7,-34,-57.3,-32.5,-56.8,-31,-56.2,-29.5,-56.3,-27,-56.6,-25]],
  [0.58,[-59,-26.8,-59.7,-28.2,-60.3,-30,-60.5,-32,-60,-33,-59,-33.5,-58,-33.3,-57.5,-31.5,-58,-30,-57.8,-28,-58.2,-26.5]],
  [0.69,[-59.3,-28,-60,-30,-60.5,-31.5,-60,-32.5,-59.5,-31.5,-59,-30,-58.6,-28.5]],
];
const pointsBubo = [-61.6,-23.15,-61.15,-23.65,-60.8,-23.5,-60,-23.65,-60.4,-24.3,-60.55,-24.55,-58.6,-23.9,-58.55,-24.25,-57.65,-24.65,-58.1,-25,-57.4,-25.15,-57.75,-25,-58.75,-25.3,-58.8,-25.8,-58.8,-26.15,-58.6,-26.05,-57.85,-25.85,-57.8,-26.6,-59.65,-26.8,-58.75,-27.05,-57.75,-27.35,-56.75,-27.6,-59,-27.85,-59.9,-28,-59.65,-28.1,-59.25,-28.3,-55.95,-28.3,-57.85,-28.4,-57.15,-28.5,-59.4,-28.6,-61.05,-28.8,-60.65,-28.85,-60.8,-29.05,-57.95,-29,-61.9,-29.25,-61.7,-29.45,-61.05,-29.65,-60.65,-29.8,-60.3,-29.9,-59.9,-30,-56.45,-29.95,-62.7,-30.9,-61.7,-30.4,-61.05,-30.45,-59.75,-30.45,-59.6,-30.55,-57.85,-30.5,-58.1,-30.75,-58.85,-30.85,-60.95,-30.75,-60.8,-31.05,-60.45,-31.05,-60.2,-30.85,-57.85,-31.5,-60.9,-31.4,-60.65,-31.6,-59,-31.8,-58.1,-31.85,-60.8,-31.95,-57.5,-32.1,-58.1,-32.1,-60.7,-32.25,-60.3,-32.45,-59.4,-32.7,-58.4,-32.7,-59.05,-32.8,-59.4,-33.25,-58.65,-33.15,-58.9,-33.45,-58.4,-32.95,-58.5,-33.45,-58.75,-34,-58.5,-34.1,-60.05,-34.55,-58.45,-34.5,-58,-34.35];

const zonesBusa: any[] = [
  [0.09,[-70,-22,-45,-22,-45,-42,-70,-42]],
  [0.12,[-64,-34,-64,-36.8,-60,-36.5,-56,-36.5,-56,-35,-60,-34]],
  [0.16,[-70,-22,-50,-22,-50,-35,-58,-34.8,-64,-33.5,-70,-33]],
  [0.24,[-62,-22.3,-61,-23,-61.5,-25,-61.5,-27,-63,-28,-63,-33.5,-61,-33.8,-59,-34.2,-57.5,-34.5,-56,-35,-55,-31,-55,-28.5,-56,-25]],
  [0.24,[-55.5,-27.5,-55.5,-24.5,-53.5,-24.5,-53.5,-25.5,-54.5,-26,-55,-27.5,-56.5,-28.5]],
  [0.35,[-61.3,-23,-60.5,-24.5,-61,-27.5,-62.2,-28,-62.2,-30,-61.8,-32,-60.5,-33.2,-59,-33.5,-58.3,-33,-57.8,-31,-56.8,-30,-56,-29,-55.3,-27.5,-56,-26.5,-56,-24,-58,-23.5]],
  [0.38,[-55.4,-25.8,-55.2,-25,-54.5,-25,-54.8,-25.7]],
  [0.46,[-60.3,-24,-60.5,-26,-60.8,-27,-61,-28.5,-61.5,-30.5,-61,-31.8,-59.8,-32,-59.5,-31,-58.8,-30,-58.8,-28.7,-58.2,-29.5,-58,-30.8,-57,-30.5,-56.5,-29.2,-55.8,-28,-55.5,-27,-56.2,-26.5,-56.2,-24.5,-58,-23.8]],
  [0.55,[-59.2,-24.2,-59.6,-26,-59.7,-27.5,-59.5,-28.5,-58.5,-28.5,-58,-30,-57,-29.8,-56.5,-28,-55.8,-27,-56.5,-26.8,-56.5,-25,-57.5,-24]],
  [0.55,[-60.7,-28.5,-60,-29,-60,-31,-60.7,-31]],
  [0.68,[-58.3,-24,-58.5,-26,-58.8,-27.7,-57.7,-28.5,-57,-27.7,-56.5,-26.9,-57,-26,-56.6,-24.7,-57.5,-24]],
  [0.74,[-57.7,-24.4,-57.7,-25.5,-56.8,-25.3,-56.8,-24.7]],
];
const pointsBusa = [-61.6,-23.15,-61.85,-23.9,-61.15,-23.65,-60.75,-23.5,-61.25,-24.25,-60.65,-24.2,-60.3,-24.35,-60.15,-23.75,-59.8,-23.9,-61.45,-24.9,-61.05,-24.95,-60.5,-24.5,-61.25,-26.55,-60,-26.1,-60,-26.3,-59.7,-26.85,-59.25,-24.5,-59,-24.6,-58.55,-24.1,-58.25,-24.2,-57.85,-24.6,-57.25,-24.75,-57.5,-25.1,-58,-25.15,-58.75,-25.3,-57,-24.8,-58.75,-25.8,-58.25,-25.9,-57.9,-25.8,-57.25,-26.2,-58.1,-26.5,-58,-26.65,-58.9,-26.95,-57.75,-27.15,-57.1,-27.25,-56.5,-27.15,-56.1,-26.95,-55.85,-27.3,-56.6,-27.6,-58.6,-27.3,-58.95,-27.7,-58,-27.9,-56.85,-27.8,-55.75,-27.8,-57,-28.25,-55.95,-28.4,-57.25,-28.5,-59.95,-28.15,-59.65,-28.35,-59.25,-28.35,-60.3,-28.8,-60.2,-29.2,-61.85,-29.2,-58,-29.15,-60.15,-30,-60.05,-30.2,-59.5,-30.35,-59.7,-29.5,-58.2,-30.35,-60.3,-31.25,-60.9,-31.4,-60.3,-31.75,-58,-31.4,-58.3,-31.85,-58.15,-32.15,-58.8,-33.5,-54.45,-25.75,-54,-25.85];

const ZONES = [zonesRufus,zonesCajaneus,zonesNenday,zonesFlav,zonesArund,zonesClam,zonesFlamm,zonesHud,zonesBasil,zonesBota,zonesBubo,zonesBusa];
const POINTS = [pointsRufus,pointsCajaneus,pointsNenday,pointsFlav,pointsArund,pointsClam,pointsFlamm,pointsHud,pointsBasil,pointsBota,pointsBubo,pointsBusa];

// page layout of the panels: [left, top] of each frame, then title and stat text centres
const FRAME_LEFT = [39,444.3,858.3,38.3,443.7,858.3,37.7,442.7,858.3,38.3,442.7,858];
const FRAME_TOP = [47,47,46.7,428.3,428.3,428.7,810.3,811.3,811.3,1193.7,1193,1193.7];
const TITLE_X = [182,588,1003,182,587,1002,181,586,1002,182,586,1001];
const TITLE_Y = [19,19,19,400,401,401,783,783,784,1166,1165,1166];
const STAT_X = [262.7,668,1082.7,262.2,667.7,1082.7,261,666.7,1082,262,666.7,1082];
const AUC_Y = [164,164,164,545.7,546.3,546.3,927.7,928.3,928.7,1311,1310.3,1311];
const BOYCE_Y = [203,203,203,584.3,585.3,585.3,966.7,967,967.7,1350,1349.3,1350];
const FRAME_W = 287;
const FRAME_H = 297.5;
const LON_MIN = -69.52, LON_MAX = -47.67, LAT_MIN = -41.63, LAT_MAX = -22.46;

const STOPS: [number,string][] = [[0,"#f5f1ee"],[0.1,"#eecdc1"],[0.22,"#e8a77c"],[0.35,"#e2a436"],[0.48,"#d9d422"],[0.6,"#93c63f"],[0.75,"#56ad45"],[0.88,"#2c9b4a"],[1,"#0e8a4a"]];
function paletteColor(t: number): string {
  const c = Math.max(0, Math.min(1, t));
  for (let i = 1; i < STOPS.length; i++) {
    if (c <= STOPS[i][0]) {
      const f = (c - STOPS[i-1][0]) / (STOPS[i][0] - STOPS[i-1][0]);
      return echarts.color.lerp(f, [STOPS[i-1][1], STOPS[i][1]]) as string;
    }
  }
  return STOPS[STOPS.length-1][1];
}
const pairs = (f: number[]) => { const o: number[][] = []; for (let i = 0; i < f.length; i += 2) o.push([f[i], f[i+1]]); return o; };
const PLUS = "path://M4.55 0H5.45V4.55H10V5.45H5.45V10H4.55V5.45H0V4.55H4.55Z";
const txt = (x: number, y: number, text: string, size: number, fill: string, align = "center") => ({
  type: "text", x, y, silent: true, z: 20,
  style: { text, fill, font: `${size}px ${FONT}`, textAlign: align, textVerticalAlign: "middle", align, verticalAlign: "middle" },
});

function buildOption() {
  const grid: any[] = [], xAxis: any[] = [], yAxis: any[] = [], series: any[] = [], title: any[] = [], graphic: any[] = [];
  const axisCommon = { axisLine: { show: false }, splitLine: { show: false } };
  const tickStyle = { show: true, length: 5, lineStyle: { color: "#6a6a6a", width: 1 } };
  SPECIES.forEach((name, i) => {
    const L = FRAME_LEFT[i], T = FRAME_TOP[i];
    const mi = 2 * i, bi = 2 * i + 1;
    grid.push({ left: L, top: T, width: FRAME_W, height: FRAME_H, show: true, borderColor: "#808080", borderWidth: 1.3, backgroundColor: "#fff", z: 1 });
    xAxis.push({ ...axisCommon, type: "value", gridIndex: mi, min: LON_MIN, max: LON_MAX, position: "bottom",
      axisTick: { ...tickStyle, customValues: LON_TICKS },
      axisLabel: { customValues: LON_TICKS, margin: 16, fontSize: 12, color: "#555", fontFamily: FONT } });
    yAxis.push({ ...axisCommon, type: "value", gridIndex: mi, min: LAT_MIN, max: LAT_MAX, position: "left",
      axisTick: { ...tickStyle, customValues: LAT_TICKS },
      axisLabel: { customValues: LAT_TICKS, margin: 14, rotate: 90, fontSize: 12, color: "#555", fontFamily: FONT } });
    title.push({ text: name, left: TITLE_X[i], top: TITLE_Y[i] - 8, textAlign: "center", padding: 0,
      textStyle: { fontSize: 14, fontWeight: "bold", color: "#2a2a2a", fontFamily: FONT } });

    const zones = ZONES[i];
    const vmin = RANGE_MIN[i], vmax = RANGE_MAX[i];
    series.push({ type: "custom", xAxisIndex: mi, yAxisIndex: mi, coordinateSystem: "cartesian2d", silent: true, z: 2,
      data: zones.map((_: any, k: number) => [k, 0]),
      renderItem: (p: any, api: any) => {
        const z = zones[p.dataIndex];
        const pts = pairs(z[1]).map((c) => api.coord(c));
        const region = pairs(REGION).map((c) => api.coord(c));
        const color = paletteColor((z[0] - vmin) / (vmax - vmin));
        const children: any[] = [];
        if (p.dataIndex > 0) {
          [[13, 0.14], [8.5, 0.2], [4.5, 0.3]].forEach(([w, o]) =>
            children.push({ type: "polygon", shape: { points: pts, smooth: 0.4 }, style: { fill: "none", stroke: color, lineWidth: w, opacity: o } }));
        }
        children.push({ type: "polygon", shape: { points: pts, smooth: p.dataIndex > 0 ? 0.4 : 0 }, style: { fill: color } });
        return { type: "group", clipPath: { type: "polygon", shape: { points: region, smooth: 0.25 } }, children };
      } });
    series.push({ type: "custom", xAxisIndex: mi, yAxisIndex: mi, silent: true, z: 3,
      data: BOUNDARIES.map((_, k) => [k, 0]),
      renderItem: (p: any, api: any) => ({ type: "polyline", shape: { points: pairs(BOUNDARIES[p.dataIndex]).map((c) => api.coord(c)), smooth: 0.2 },
        style: { fill: "none", stroke: "#c2c2c2", lineWidth: 1, opacity: 0.7 } }) });
    series.push({ type: "custom", xAxisIndex: mi, yAxisIndex: mi, silent: true, z: 4, data: [[0, 0]],
      renderItem: (_: any, api: any) => ({ type: "polygon", shape: { points: pairs(SANTA_FE).map((c) => api.coord(c)) },
        style: { fill: "none", stroke: "#3c3636", lineWidth: 1.1 } }) });
    series.push({ type: "scatter", xAxisIndex: mi, yAxisIndex: mi, silent: true, z: 5, symbol: PLUS, symbolSize: 9,
      itemStyle: { color: "#262626", opacity: 1 }, data: pairs(POINTS[i]) });

    // colour bar: its own small grid and value axis
    grid.push({ left: L + 309.5, top: T + 74, width: 7, height: 149, show: false });
    xAxis.push({ type: "value", gridIndex: bi, min: 0, max: 1, show: false });
    yAxis.push({ ...axisCommon, type: "value", gridIndex: bi, min: vmin, max: vmax, position: "right",
      axisTick: { ...tickStyle, customValues: BAR_TICKS[i] },
      axisLabel: { customValues: BAR_TICKS[i], margin: 14, fontSize: 12, color: "#444", fontFamily: FONT } });
    series.push({ type: "custom", xAxisIndex: bi, yAxisIndex: bi, silent: true, data: [[0, vmin]],
      renderItem: (_: any, api: any) => {
        const a = api.coord([0, vmax]), b = api.coord([1, vmin]);
        return { type: "rect", shape: { x: a[0], y: a[1], width: b[0] - a[0], height: b[1] - a[1] },
          style: { stroke: "#8a8a8a", lineWidth: 1,
            fill: new echarts.graphic.LinearGradient(0, 1, 0, 0, STOPS.map(([offset, color]) => ({ offset, color }))) } };
      } });

    // decorations: north arrow, scale bar, statistics
    const cx = L + 256.7, ty = T + 15.3;
    graphic.push({ type: "polygon", silent: true, z: 20, shape: { points: [[cx, ty],[cx+7.6, ty+11.7],[cx+4.8, ty+11.7],[cx+4.8, ty+24.4],[cx-4.6, ty+24.4],[cx-4.6, ty+11.7],[cx-7.4, ty+11.7]] },
      style: { fill: "#fff", stroke: "#4a4a4a", lineWidth: 1 } });
    graphic.push(txt(cx, T + 49.3, "N", 12, "#444"));
    const sx = L + 207, sy = T + 280;
    for (let s = 0; s < 5; s++) graphic.push({ type: "rect", silent: true, z: 20, shape: { x: sx + s * 13.9, y: sy, width: 13.9, height: 7 },
      style: { fill: s % 2 ? "#fff" : "#1c1c1c", stroke: "#1c1c1c", lineWidth: 0.8 } });
    graphic.push(txt(L + 201, T + 283.7, "500 km", 9.3, "#333", "right"));
    graphic.push(txt(STAT_X[i], AUC_Y[i], `AUC = ${AUC[i]}`, 12, "#444"));
    graphic.push(txt(STAT_X[i], BOYCE_Y[i], `BOYCE = ${BOYCE[i]}`, 12, "#444"));
  });
  // the first panel's x labels are cut off in the source figure
  graphic.push({ type: "rect", silent: true, z: 30, shape: { x: 70, y: 369.3, width: 250, height: 9 }, style: { fill: "#fff" } });
  return { animation: false, backgroundColor: "#fff", grid, xAxis, yAxis, series, title, graphic: { elements: graphic } };
}

export default function App() {
  const ref = useRef<HTMLDivElement>(null);
  useEffect(() => {
    const chart = echarts.init(ref.current!, undefined, { renderer: "svg" });
    chart.setOption(buildOption() as any);
    return () => chart.dispose();
  }, []);
  return <div ref={ref} style={{ position: "absolute", left: 0, top: 0, width: 1219, height: 1522 }} />;
}
